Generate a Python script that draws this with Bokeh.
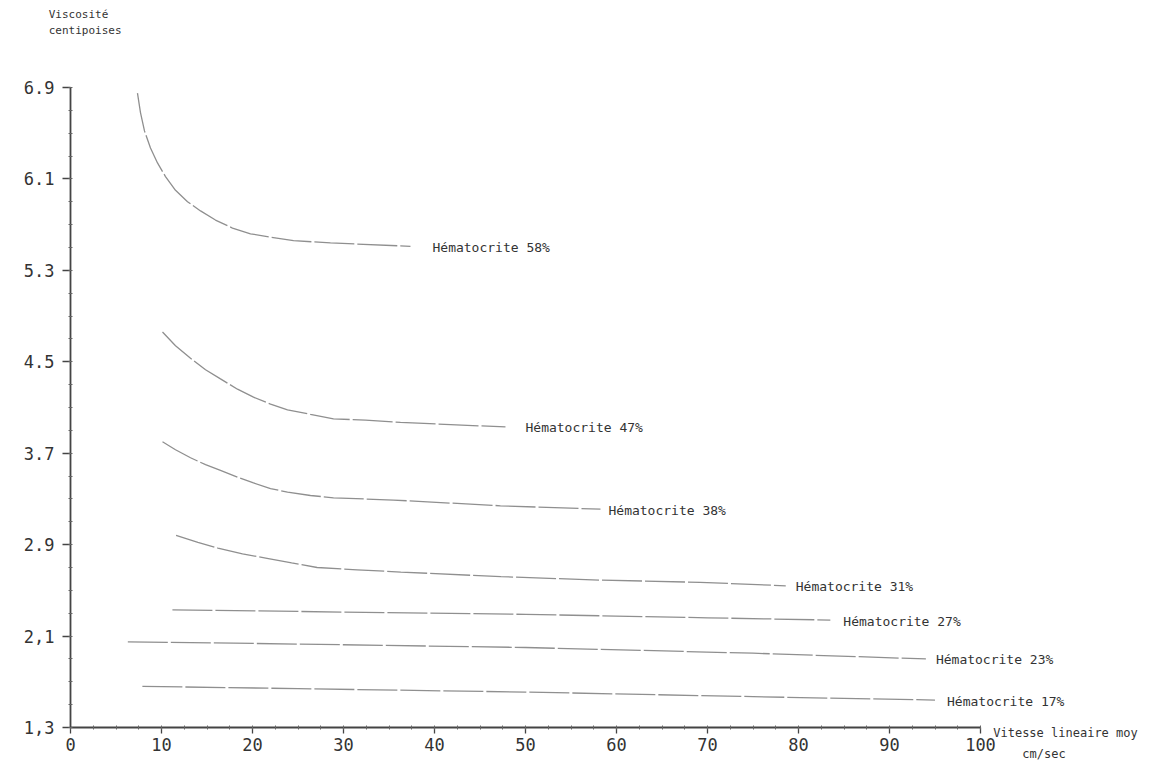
from bokeh.plotting import figure
from bokeh.models import Range1d, FixedTicker, Label
from bokeh.embed import file_html
from bokeh.resources import INLINE

# ---- data ----
hct_labels = ["Hématocrite 58%", "Hématocrite 47%", "Hématocrite 38%", "Hématocrite 31%",
              "Hématocrite 27%", "Hématocrite 23%", "Hématocrite 17%"]

x58 = [7.36, 7.69, 8.13, 8.79, 9.56, 10.44, 11.54, 12.86, 14.29, 15.93, 17.80, 19.78, 21.98, 24.51, 28.57, 37.36]
y58 = [6.85, 6.68, 6.52, 6.37, 6.24, 6.12, 6.00, 5.90, 5.82, 5.74, 5.67, 5.62, 5.59, 5.56, 5.54, 5.51]

x47 = [10.11, 11.54, 13.19, 14.84, 16.48, 18.35, 20.11, 21.98, 23.85, 26.37, 28.90, 32.42, 36.26, 41.76, 47.80]
y47 = [4.76, 4.64, 4.53, 4.43, 4.35, 4.26, 4.19, 4.13, 4.08, 4.04, 4.00, 3.99, 3.97, 3.95, 3.93]

x38 = [10.11, 11.54, 13.19, 14.84, 16.48, 18.35, 20.11, 21.98, 23.85, 26.37, 28.90, 35.49, 47.25, 58.24]
y38 = [3.80, 3.73, 3.66, 3.60, 3.55, 3.49, 3.44, 3.39, 3.36, 3.33, 3.31, 3.29, 3.24, 3.21]

x31 = [11.6, 14.0, 16.2, 18.9, 21.6, 24.3, 27.1, 31.5, 36.3, 47.3, 58.2, 69.2, 78.6]
y31 = [2.98, 2.92, 2.87, 2.82, 2.78, 2.74, 2.70, 2.68, 2.66, 2.62, 2.59, 2.57, 2.54]

x27 = [11.2, 30.0, 50.0, 70.0, 83.5]
y27 = [2.33, 2.31, 2.29, 2.26, 2.24]

x23 = [6.3, 25.0, 50.0, 75.0, 94.0]
y23 = [2.05, 2.03, 2.00, 1.95, 1.90]

x17 = [7.9, 25.0, 50.0, 75.0, 95.0]
y17 = [1.66, 1.64, 1.61, 1.57, 1.54]

series_x = [x58, x47, x38, x31, x27, x23, x17]
series_y = [y58, y47, y38, y31, y27, y23, y17]

x_ticks = [0, 10, 20, 30, 40, 50, 60, 70, 80, 90, 100]
y_ticks = [1.3, 2.1, 2.9, 3.7, 4.5, 5.3, 6.1, 6.9]
y_tick_text = ["1,3", "2,1", "2.9", "3.7", "4.5", "5.3", "6.1", "6.9"]

# ---- style ----
label_dx = [22, 20, 8, 10, 13, 10, 12]
line_col = "#8f8f8f"
text_col = "#333333"

W, H = 1160, 765
X0_PX, PX_PER_X = 70, 9.1
Y0_PX, PX_PER_Y = 727, 114.29

p = figure(width=W, height=H, output_backend="svg", toolbar_location=None,
           x_range=Range1d(-X0_PX / PX_PER_X, (W - X0_PX) / PX_PER_X),
           y_range=Range1d(1.3 - (H - Y0_PX) / PX_PER_Y, 1.3 + Y0_PX / PX_PER_Y),
           min_border_left=0, min_border_right=0, min_border_top=0, min_border_bottom=0)
p.outline_line_color = None
p.grid.grid_line_color = None
p.background_fill_color = "white"

for xs, ys in zip(series_x, series_y):
    p.line(xs, ys, line_color=line_col, line_width=1.3, line_dash="40 3")

lab_style = dict(text_font="DejaVu Sans Mono", text_font_size="13px", text_color=text_col,
                 text_baseline="middle", text_align="left")
for xs, ys, lab, dx in zip(series_x, series_y, hct_labels, label_dx):
    p.add_layout(Label(x=xs[-1], y=ys[-1], text=lab, x_offset=dx, y_offset=-1, **lab_style))

# axes
p.xaxis.ticker = FixedTicker(ticks=x_ticks, minor_ticks=[v * 2.5 for v in range(0, 41)])
p.yaxis.ticker = FixedTicker(ticks=y_ticks, minor_ticks=[round(1.3 + 0.2 * i, 2) for i in range(29)])
p.yaxis.major_label_overrides = {t: s for t, s in zip(y_ticks, y_tick_text)}
p.xaxis.fixed_location = 1.3
p.yaxis.fixed_location = 0
p.xaxis.bounds = (0, 100)
p.yaxis.bounds = (1.3, 6.9)

for ax in (p.xaxis, p.yaxis):
    ax.axis_line_color = "#444444"
    ax.axis_line_width = 1.8
    ax.major_tick_line_color = "#444444"
    ax.minor_tick_line_color = "#666666"
    ax.major_tick_line_width = 1.3
    ax.major_label_text_font = "DejaVu Sans Mono"
    ax.major_label_text_font_size = "17px"
    ax.major_label_text_color = text_col
    ax.minor_tick_in = 2
    ax.minor_tick_out = 2
    ax.major_tick_in = 0

p.yaxis.major_tick_out = 8
p.yaxis.major_label_standoff = 8
p.xaxis.major_tick_out = 6
p.xaxis.major_label_standoff = 4

# axis titles
small = dict(text_font="DejaVu Sans Mono", text_font_size="11px", text_color=text_col,
             text_baseline="middle")
p.add_layout(Label(x=-2.4, y=7.54, text="Viscosité", **small))
p.add_layout(Label(x=-2.4, y=7.40, text="centipoises", **small))
p.add_layout(Label(x=101.4, y=1.25, text="Vitesse lineaire moy", text_font="DejaVu Sans Mono",
                   text_font_size="12px", text_color=text_col, text_baseline="middle"))
p.add_layout(Label(x=104.6, y=1.07, text="cm/sec", text_font="DejaVu Sans Mono",
                   text_font_size="12px", text_color=text_col, text_baseline="middle"))

open("out.html", "w").write(file_html(p, INLINE))
